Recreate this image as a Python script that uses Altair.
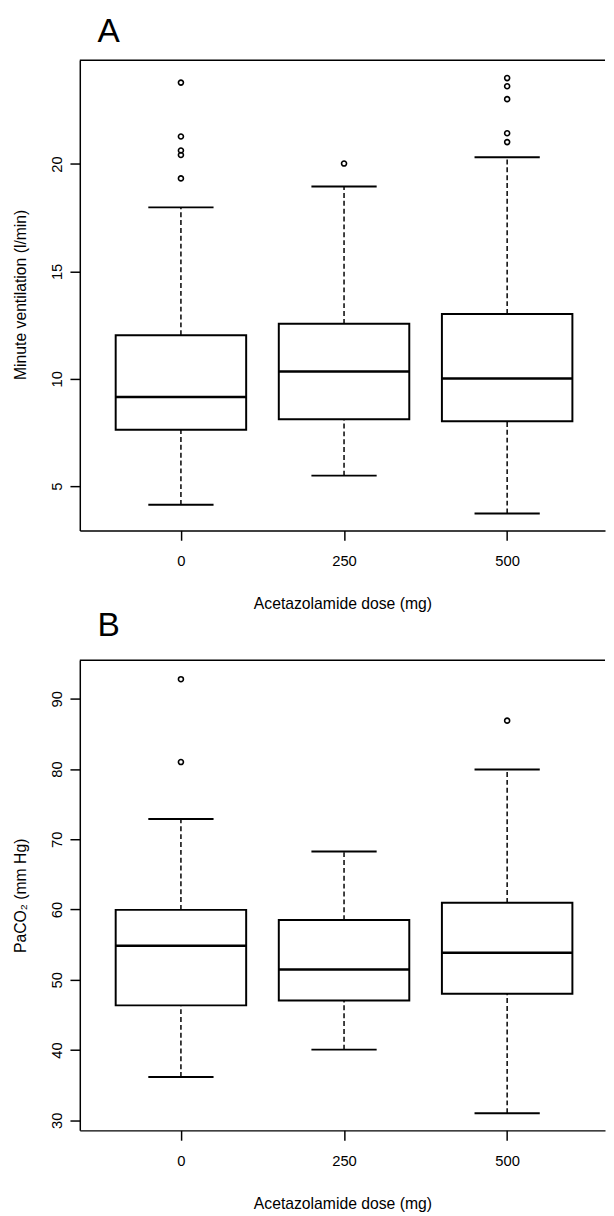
import json
import altair as alt
import pandas as pd

# ---------------- data ----------------
doses = ["0", "250", "500"]

# Panel A: Minute ventilation (l/min)
a_lower = [4.13, 5.49, 3.73]
a_q1 = [7.63, 8.12, 8.02]
a_median = [9.15, 10.34, 10.01]
a_q3 = [12.03, 12.56, 13.02]
a_upper = [17.98, 18.95, 20.31]
a_out_dose = ["0", "0", "0", "0", "0", "250", "500", "500", "500", "500", "500"]
a_out_value = [23.79, 21.28, 20.63, 20.42, 19.33, 20.02, 24.0, 23.62, 23.02, 21.43, 21.02]

# Panel B: PaCO2 (mm Hg)
b_lower = [36.15, 40.05, 31.0]
b_q1 = [46.35, 47.05, 48.0]
b_median = [54.85, 51.45, 53.85]
b_q3 = [59.95, 58.5, 60.95]
b_upper = [72.9, 68.25, 79.95]
b_out_dose = ["0", "0", "500"]
b_out_value = [92.8, 81.0, 86.9]

a_ticks = [5, 10, 15, 20]
b_ticks = [30, 40, 50, 60, 70, 80, 90]

W = 534
H = 478
FONT = "Liberation Sans"
BOXW = 0.4
CAPW = 0.2


def panel(letter, lower, q1, med, q3, upper, out_dose, out_value,
          ydomain, yticks, ytitle, title_y, title_offset):
    stats = pd.DataFrame({
        "dose": doses,
        "pos": [i + 1 for i in range(len(doses))],
        "lower": lower, "q1": q1, "median": med, "q3": q3, "upper": upper,
    })
    outs = pd.DataFrame({"dose": out_dose, "value": out_value})
    outs["pos"] = outs["dose"].map({d: i + 1 for i, d in enumerate(doses)})

    xscale = alt.Scale(domain=[0.38, 3.6], nice=False, zero=False)
    yscale = alt.Scale(domain=ydomain, nice=False, zero=False)
    xaxis = alt.Axis(values=[1, 2, 3], labelExpr=json.dumps(doses) + "[datum.value - 1]",
                     title="Acetazolamide dose (mg)", grid=False,
                     labelPadding=14, titlePadding=27)
    yaxis = alt.Axis(values=yticks, labelAngle=270, title=ytitle, grid=False,
                     titleX=-52, titleY=title_y)

    base = alt.Chart(stats).transform_calculate(
        bl="datum.pos - %f" % BOXW, br="datum.pos + %f" % BOXW,
        cl="datum.pos - %f" % CAPW, cr="datum.pos + %f" % CAPW,
    )

    whisk_up = base.mark_rule(strokeDash=[5, 3], strokeWidth=1.5, color="black").encode(
        x=alt.X("pos:Q", scale=xscale, axis=xaxis),
        y=alt.Y("q3:Q", scale=yscale, axis=yaxis), y2="upper:Q")
    whisk_lo = base.mark_rule(strokeDash=[5, 3], strokeWidth=1.5, color="black").encode(
        x="pos:Q", y="lower:Q", y2="q1:Q")
    cap_up = base.mark_rule(strokeWidth=2, color="black").encode(
        x="cl:Q", x2="cr:Q", y="upper:Q")
    cap_lo = base.mark_rule(strokeWidth=2, color="black").encode(
        x="cl:Q", x2="cr:Q", y="lower:Q")
    box = base.mark_rect(fill="white", stroke="black", strokeWidth=2).encode(
        x="bl:Q", x2="br:Q", y="q1:Q", y2="q3:Q")
    median = base.mark_rule(strokeWidth=2.5, color="black").encode(
        x="bl:Q", x2="br:Q", y="median:Q")
    points = alt.Chart(outs).mark_point(shape="circle", filled=False, size=26,
                                         strokeWidth=1.6, color="black", opacity=1).encode(
        x="pos:Q", y="value:Q")
    top = alt.Chart(pd.DataFrame({"k": [0]})).mark_rule(strokeWidth=1.5, color="black").encode(
        x=alt.value(0), x2=alt.value(W), y=alt.value(0))

    return alt.layer(whisk_up, whisk_lo, cap_up, cap_lo, box, median, points, top).properties(
        width=W, height=H,
        title=alt.TitleParams(letter, anchor="start", frame="group", font=FONT, fontSize=34,
                              fontWeight="normal", color="black", dx=18, offset=title_offset),
    )


pa = panel("A", a_lower, a_q1, a_median, a_q3, a_upper, a_out_dose, a_out_value,
           [2.94, 24.83], a_ticks, "Minute ventilation (l/min)", 238, 11)
pb = panel("B", b_lower, b_q1, b_median, b_q3, b_upper, b_out_dose, b_out_value,
           [28.55, 95.5], b_ticks, "PaCO\u2082 (mm Hg)", 239, 17)

chart = alt.vconcat(pa, pb, spacing=-2).properties(
    padding={"left": 5, "top": -3, "right": 0, "bottom": 0}
).configure_view(stroke=None).configure_axis(
    domainColor="black", domainWidth=1.5, tickColor="black", tickWidth=1.5, tickSize=10,
    labelFont=FONT, labelFontSize=15, labelColor="black", labelPadding=6,
    titleFont=FONT, titleFontSize=16, titleFontWeight="normal", titleColor="black",
).configure_title(font=FONT)

chart.save("out.html", embed_options={"renderer": "svg", "actions": False})
